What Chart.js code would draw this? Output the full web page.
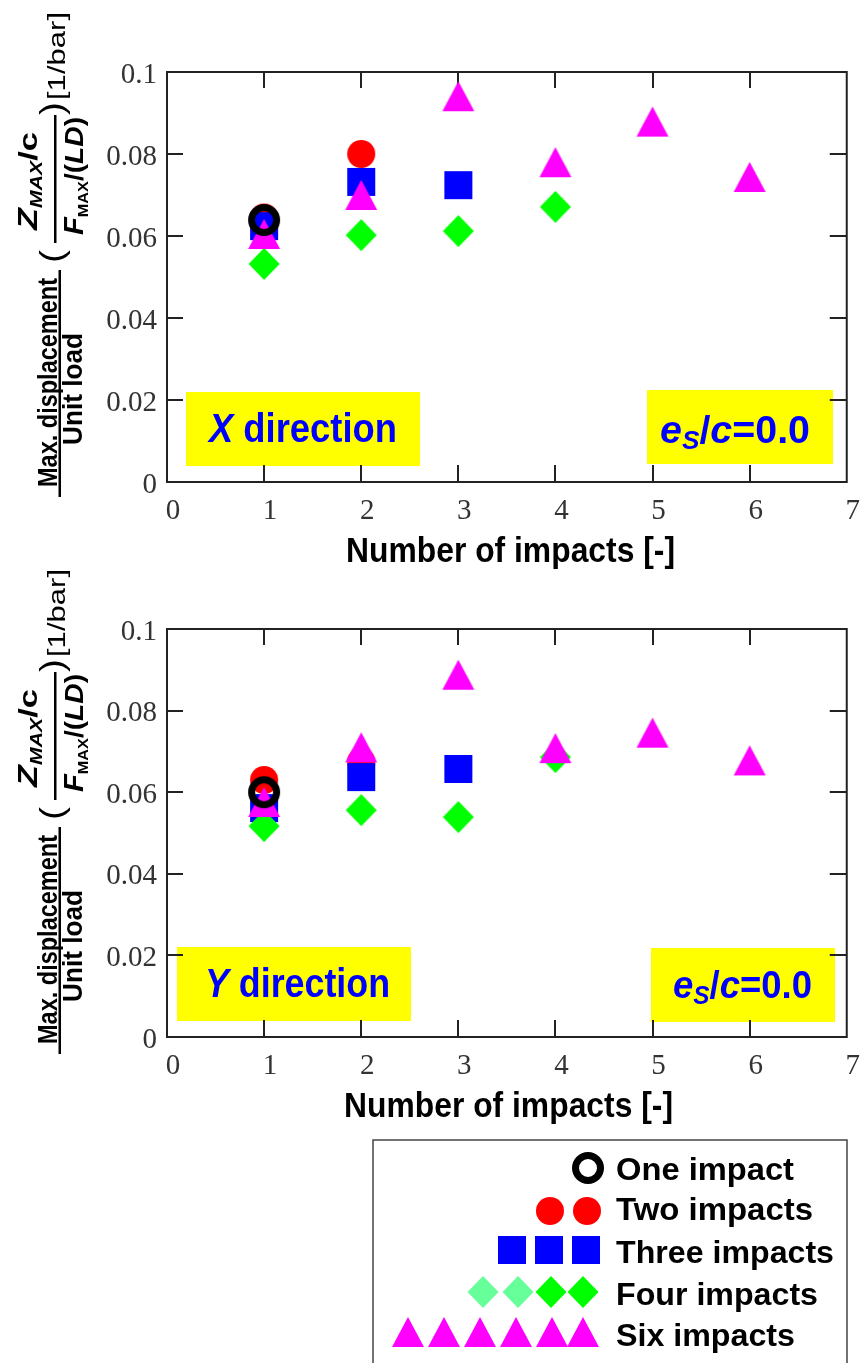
<!DOCTYPE html>
<html>
<head>
<meta charset="utf-8">
<script src="https://cdn.jsdelivr.net/npm/chart.js@4.4.1/dist/chart.umd.min.js"></script>
<style>
  html, body { margin: 0; padding: 0; background: #fff; }
  body { width: 866px; height: 1363px; position: relative; overflow: hidden; }
  canvas { position: absolute; left: 0; }
  #chartX { top: 0; }
  #chartY { top: 557px; }
</style>
</head>
<body>
<canvas id="chartX" width="866" height="600"></canvas>
<canvas id="chartY" width="866" height="806"></canvas>
<script>
'use strict';

// number of impacts on the x axis
const impacts = [1, 2, 3, 4, 5, 6];
const xTicks = [0, 1, 2, 3, 4, 5, 6, 7];
const yTicks = [0, 0.02, 0.04, 0.06, 0.08, 0.1];

// X direction (top panel)
const oneX = [0.0639];
const twoX = [0.0645, 0.0800];
const threeX = [0.0624, 0.0732, 0.0724];
const fourX = [0.0532, 0.0602, 0.0612, 0.0671];
const sixX = [0.0605, 0.0700, 0.0941, 0.0780, 0.0879, 0.0744];

// Y direction (bottom panel)
const oneY = [0.0600];
const twoY = [0.0630, 0.0675];
const threeY = [0.0561, 0.0637, 0.0657];
const fourY = [0.0517, 0.0556, 0.0539, 0.0686];
const sixY = [0.0576, 0.0710, 0.0888, 0.0708, 0.0746, 0.0678];

const legendLabels = ['One impact', 'Two impacts', 'Three impacts', 'Four impacts', 'Six impacts'];

const SANS = '"Liberation Sans", Arial, sans-serif';
const SERIF = '"Liberation Serif", "Times New Roman", serif';

function marker(kind, color) {
  const c = document.createElement('canvas');
  c.width = 36; c.height = 36;
  const g = c.getContext('2d');
  const m = 18;
  g.fillStyle = color;
  g.strokeStyle = color;
  g.beginPath();
  if (kind === 'ring') {
    g.lineWidth = 7;
    g.arc(m, m, 12.5, 0, Math.PI * 2);
    g.stroke();
    return c;
  }
  if (kind === 'circle') g.arc(m, m, 14, 0, Math.PI * 2);
  if (kind === 'square') g.rect(m - 14, m - 14, 28, 28);
  if (kind === 'diamond') {
    g.moveTo(m, m - 16); g.lineTo(m + 15.5, m); g.lineTo(m, m + 16); g.lineTo(m - 15.5, m);
  }
  if (kind === 'triangle') {
    g.moveTo(m, m - 15); g.lineTo(m + 16, m + 15); g.lineTo(m - 16, m + 15);
  }
  g.closePath();
  g.fill();
  return c;
}

const mRing = marker('ring', '#000000');
const mCircle = marker('circle', '#FF0000');
const mSquare = marker('square', '#0000FF');
const mDiamond = marker('diamond', '#00FF00');
const mDiamondLight = marker('diamond', '#66FF99');
const mTriangle = marker('triangle', '#FF00FF');

// text helpers: a run of pieces squeezed to a given length, optionally rotated
function runWidth(g, pieces) {
  let w = 0;
  for (const p of pieces) { g.font = p.font; w += g.measureText(p.t).width; }
  return w;
}
function drawRun(g, pieces, x, y, width, rotate, color) {
  const nat = runWidth(g, pieces);
  g.save();
  g.translate(x, y);
  if (rotate) g.rotate(-Math.PI / 2);
  if (width) g.scale(width / nat, 1);
  g.textAlign = 'left';
  g.textBaseline = 'alphabetic';
  g.fillStyle = color || '#000';
  let u = 0;
  for (const p of pieces) {
    g.font = p.font;
    g.fillText(p.t, u, p.dy || 0);
    u += g.measureText(p.t).width;
  }
  g.restore();
}

function drawYTitle(g) {
  drawRun(g, [{ t: 'Max. displacement', font: 'bold 27px ' + SANS }], 57, 487, 209, true);
  drawRun(g, [{ t: 'Unit load', font: 'bold 27px ' + SANS }], 82, 445, 112, true);
  g.fillStyle = '#000';
  g.fillRect(58.5, 270, 2.5, 227);
  drawRun(g, [{ t: '(', font: '34px ' + SANS }], 63, 263, 13, true);
  drawRun(g, [
    { t: 'Z', font: 'italic bold 27px ' + SANS },
    { t: 'MAX', font: 'italic bold 16px ' + SANS, dy: 5 },
    { t: '/c', font: 'bold 26px ' + SANS }
  ], 37, 230, 98, true);
  g.fillStyle = '#000';
  g.fillRect(54, 115, 2.5, 128);
  drawRun(g, [
    { t: 'F', font: 'italic bold 27px ' + SANS },
    { t: 'MAX', font: 'bold 15px ' + SANS, dy: 5 },
    { t: '/(', font: 'bold 26px ' + SANS },
    { t: 'LD', font: 'italic bold 26px ' + SANS },
    { t: ')', font: 'bold 26px ' + SANS }
  ], 83, 235, 118, true);
  drawRun(g, [{ t: ')', font: '34px ' + SANS }], 63, 115, 13, true);
  drawRun(g, [{ t: '[1/bar]', font: '23px ' + SANS }], 65, 100, 88, true);
}

function esText(size) {
  return [
    { t: 'e', font: 'italic bold ' + size + 'px ' + SANS },
    { t: 'S', font: 'italic bold 26px ' + SANS, dy: 6 },
    { t: '/', font: 'bold ' + size + 'px ' + SANS },
    { t: 'c', font: 'italic bold ' + size + 'px ' + SANS },
    { t: '=0.0', font: 'bold ' + size + 'px ' + SANS }
  ];
}

const panels = {
  chartX: {
    letter: 'X',
    dirBox: [186, 392, 234, 74], dirText: [209, 442, 188],
    esBox: [647, 390, 186, 74], esText: [660, 443, 150],
    xTitle: [346, 562, 329]
  },
  chartY: {
    letter: 'Y',
    dirBox: [177, 390, 234, 74], dirText: [205, 440, 185],
    esBox: [651, 391, 184, 74], esText: [673, 441, 139],
    xTitle: [344, 560, 329],
    legend: true
  }
};

function drawLegend(g) {
  g.save();
  g.strokeStyle = '#444';
  g.lineWidth = 1.5;
  g.strokeRect(373, 583, 474, 260);
  g.restore();
  const rows = [
    { y: 611, base: 623, w: 178, marks: [[588, mRing]] },
    { y: 654, base: 663, w: 197, marks: [[550, mCircle], [587, mCircle]] },
    { y: 693, base: 706, w: 218, marks: [[512, mSquare], [549, mSquare], [586, mSquare]] },
    { y: 735, base: 748, w: 202, marks: [[483, mDiamondLight], [518, mDiamondLight], [551, mDiamond], [583, mDiamond]] },
    { y: 775, base: 789, w: 179, marks: [[408, mTriangle], [444, mTriangle], [480, mTriangle], [516, mTriangle], [552, mTriangle], [583, mTriangle]] }
  ];
  rows.forEach((r, i) => {
    r.marks.forEach(([x, img]) => g.drawImage(img, x - img.width / 2, r.y - img.height / 2));
    drawRun(g, [{ t: legendLabels[i], font: 'bold 32px ' + SANS }], 616, r.base, r.w, false, '#000');
  });
}

const decorPlugin = {
  id: 'decor',
  beforeDatasetsDraw(chart) {
    const p = panels[chart.canvas.id];
    const g = chart.ctx;
    const a = chart.chartArea;
    const xs = chart.scales.x, ys = chart.scales.y;
    g.save();
    g.fillStyle = '#FFFF00';
    g.fillRect(...p.dirBox);
    g.fillRect(...p.esBox);
    drawRun(g, [
      { t: p.letter, font: 'italic bold 40px ' + SANS },
      { t: ' direction', font: 'bold 40px ' + SANS }
    ], p.dirText[0], p.dirText[1], p.dirText[2], false, '#0000FF');
    drawRun(g, esText(39), p.esText[0], p.esText[1], p.esText[2], false, '#0000FF');

    // frame and inward ticks
    g.strokeStyle = '#222';
    g.lineWidth = 2;
    g.strokeRect(a.left, a.top, a.right - a.left, a.bottom - a.top);
    g.beginPath();
    yTicks.slice(1, -1).forEach(v => {
      const y = Math.round(ys.getPixelForValue(v));
      g.moveTo(a.left, y); g.lineTo(a.left + 16, y);
      g.moveTo(a.right, y); g.lineTo(a.right - 17, y);
    });
    xTicks.slice(1, -1).forEach(v => {
      const x = Math.round(xs.getPixelForValue(v));
      g.moveTo(x, a.top); g.lineTo(x, a.top + 16);
      g.moveTo(x, a.bottom); g.lineTo(x, a.bottom - 17);
    });
    g.stroke();
    g.restore();
  },
  afterDraw(chart) {
    const p = panels[chart.canvas.id];
    const g = chart.ctx;
    drawYTitle(g);
    drawRun(g, [{ t: 'Number of impacts [-]', font: 'bold 35px ' + SANS }], p.xTitle[0], p.xTitle[1], p.xTitle[2], false, '#000');
    if (p.legend) drawLegend(g);
  }
};

function pts(values) {
  return values.map((v, i) => ({ x: impacts[i], y: v }));
}

function makeChart(id, one, two, three, four, six, padBottom, xHeight, padRight) {
  return new Chart(document.getElementById(id), {
    type: 'scatter',
    data: {
      datasets: [
        { label: legendLabels[0], data: pts(one), pointStyle: mRing, order: 0 },
        { label: legendLabels[1], data: pts(two), pointStyle: mCircle, order: 4 },
        { label: legendLabels[2], data: pts(three), pointStyle: mSquare, order: 3 },
        { label: legendLabels[3], data: pts(four), pointStyle: mDiamond, order: 2 },
        { label: legendLabels[4], data: pts(six), pointStyle: mTriangle, order: 1 }
      ]
    },
    options: {
      responsive: false,
      animation: false,
      events: [],
      layout: { padding: { top: 72, right: padRight, bottom: padBottom, left: 0 } },
      elements: { point: { radius: 14 } },
      plugins: { legend: { display: false }, tooltip: { enabled: false } },
      scales: {
        x: {
          type: 'linear', min: 0, max: 7,
          afterBuildTicks: s => { s.ticks = xTicks.map(v => ({ value: v })); },
          afterFit: s => { s.height = xHeight; },
          grid: { display: false, drawTicks: false },
          border: { display: false },
          ticks: {
            padding: 12, labelOffset: 6, maxRotation: 0,
            color: '#333', font: { family: SERIF, size: 29 },
            callback: v => String(v)
          }
        },
        y: {
          min: 0, max: 0.1,
          afterBuildTicks: s => { s.ticks = yTicks.map(v => ({ value: v })); },
          afterFit: s => { s.width = 167; },
          grid: { display: false, drawTicks: false },
          border: { display: false },
          ticks: {
            padding: 10, labelOffset: 3,
            color: '#333', font: { family: SERIF, size: 29 },
            callback: v => String(Math.round(v * 100) / 100)
          }
        }
      }
    },
    plugins: [decorPlugin]
  });
}

makeChart('chartX', oneX, twoX, threeX, fourX, sixX, 43, 75, 16);
makeChart('chartY', oneY, twoY, threeY, fourY, sixY, 249, 77, 15);
</script>
</body>
</html>
